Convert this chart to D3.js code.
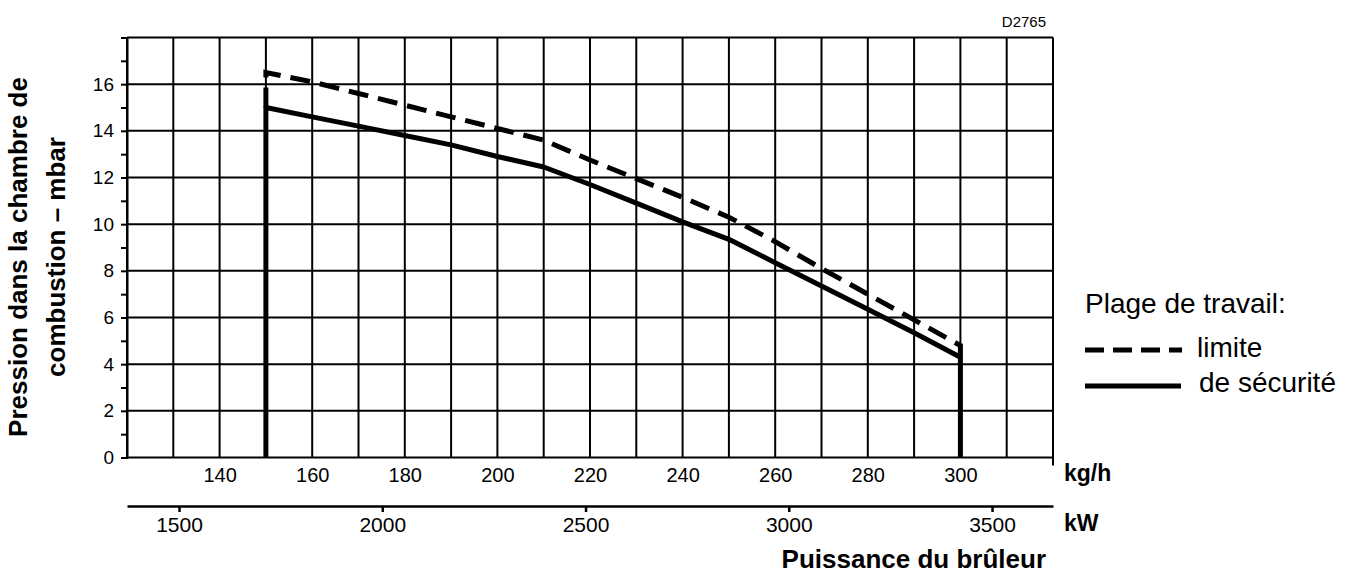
<!DOCTYPE html>
<html>
<head>
<meta charset="utf-8">
<script src="https://cdn.jsdelivr.net/npm/d3@7"></script>
<style>
  html, body { margin: 0; padding: 0; background: #fff; }
  svg { display: block; font-family: "Liberation Sans", Arial, Helvetica, sans-serif; }
</style>
</head>
<body>
<svg id="chart" width="1359" height="576"></svg>
<script>
// ---- Data ----
const kgTicks = [140, 160, 180, 200, 220, 240, 260, 280, 300];
const kwTicks = [1500, 2000, 2500, 3000, 3500];
const mbarTicks = [0, 2, 4, 6, 8, 10, 12, 14, 16];

// "limite" (dashed)
const limiteKg   = [150, 150, 160, 170, 180, 190, 200, 210, 220, 230, 240, 250, 260, 270, 280, 290, 300, 300];
const limiteMbar = [15.0, 16.5, 16.1, 15.6, 15.1, 14.6, 14.1, 13.6, 12.75, 11.95, 11.15, 10.3, 9.25, 8.1, 7.0, 5.9, 4.8, 4.3];

// "de sécurité" (solid)
const securiteKg   = [150, 150, 160, 170, 180, 190, 200, 210, 220, 230, 240, 250, 260, 270, 280, 290, 300, 300];
const securiteMbar = [0, 15.0, 14.6, 14.2, 13.8, 13.4, 12.9, 12.45, 11.7, 10.9, 10.1, 9.35, 8.35, 7.35, 6.35, 5.35, 4.3, 0];

const yTitle = ["Pression dans la chambre de", "combustion \u2013 mbar"];

// ---- Scales ----
const svg = d3.select("#chart");
const x = d3.scaleLinear().domain([120, 320]).range([127, 1053]);
const y = d3.scaleLinear().domain([0, 18]).range([457.5, 37.5]);
const kw = d3.scaleLinear().domain([1372, 3650]).range([127, 1053]);

const grid = svg.append("g").attr("stroke", "#000").attr("stroke-width", 2);

// vertical grid lines every 10 kg/h
grid.selectAll("line.v").data(d3.range(120, 321, 10)).join("line")
  .attr("x1", d => x(d)).attr("x2", d => x(d))
  .attr("y1", y(18)).attr("y2", d => d === 320 ? y(0) + 8 : y(0));

// horizontal grid lines every 2 mbar
grid.selectAll("line.h").data(d3.range(0, 19, 2)).join("line")
  .attr("x1", x(120)).attr("x2", x(320))
  .attr("y1", d => y(d)).attr("y2", d => y(d));

// left axis with ticks every 1 mbar
const yAxis = svg.append("g").attr("transform", `translate(${x(120)},0)`)
  .call(d3.axisLeft(y).tickValues(d3.range(0, 18, 1)).tickSize(6).tickFormat(d => mbarTicks.includes(d) ? d : ""));
yAxis.select(".domain").attr("stroke-width", 2);
yAxis.selectAll(".tick line").attr("stroke-width", 2);
yAxis.selectAll(".tick text").attr("font-size", 19).attr("x", -13).attr("fill", "#000");

// kg/h labels
const xAxis = svg.append("g").attr("transform", `translate(0,${y(0)})`)
  .call(d3.axisBottom(x).tickValues(kgTicks).tickSize(0).tickFormat(d3.format("d")));
xAxis.select(".domain").remove();
xAxis.selectAll(".tick text").attr("font-size", 20).attr("y", 10).attr("fill", "#000");

// kW axis
const kwAxis = svg.append("g").attr("transform", "translate(0,506)")
  .call(d3.axisBottom(kw).tickValues(kwTicks).tickSize(6).tickSizeOuter(0).tickFormat(d3.format("d")));
kwAxis.select(".domain").attr("stroke-width", 2.5);
kwAxis.selectAll(".tick line").attr("stroke-width", 2.5);
kwAxis.selectAll(".tick text").attr("font-size", 21).attr("y", 11).attr("fill", "#000");

// ---- Curves ----
const line = d3.line().x(d => x(d[0])).y(d => y(d[1]));
const secData = securiteKg.map((k, i) => [k, securiteMbar[i]]);
const limData = limiteKg.map((k, i) => [k, limiteMbar[i]]);

svg.append("path").datum(secData).attr("d", line)
  .attr("fill", "none").attr("stroke", "#000").attr("stroke-width", 5)
  .attr("stroke-linejoin", "round");
svg.append("path").datum(limData).attr("d", line)
  .attr("fill", "none").attr("stroke", "#000").attr("stroke-width", 5)
  .attr("stroke-dasharray", "20,10");

// ---- Texts ----
svg.append("text").attr("x", 1046).attr("y", 27).attr("text-anchor", "end")
  .attr("font-size", 15).text("D2765");

svg.append("text").attr("x", 1064).attr("y", 481).attr("font-size", 23).attr("font-weight", "bold").text("kg/h");
svg.append("text").attr("x", 1064).attr("y", 531).attr("font-size", 23).attr("font-weight", "bold").text("kW");
svg.append("text").attr("x", 1046).attr("y", 568).attr("text-anchor", "end")
  .attr("font-size", 26).attr("font-weight", "bold").text("Puissance du br\u00fbleur");

const yt = svg.append("g").attr("transform", "translate(0,257) rotate(-90)");
yt.selectAll("text").data(yTitle).join("text")
  .attr("x", 0).attr("y", (d, i) => i === 0 ? 27 : 65)
  .attr("text-anchor", "middle").attr("font-size", 26).attr("font-weight", "bold")
  .text(d => d);

// ---- Legend ----
const lg = svg.append("g");
lg.append("text").attr("x", 1085).attr("y", 313).attr("font-size", 28).text("Plage de travail:");
lg.append("line").attr("x1", 1085).attr("x2", 1182).attr("y1", 350).attr("y2", 350)
  .attr("stroke", "#000").attr("stroke-width", 5).attr("stroke-dasharray", "19,9");
lg.append("text").attr("x", 1197).attr("y", 357).attr("font-size", 28).text("limite");
lg.append("line").attr("x1", 1085).attr("x2", 1181).attr("y1", 386).attr("y2", 386)
  .attr("stroke", "#000").attr("stroke-width", 5);
lg.append("text").attr("x", 1199).attr("y", 392).attr("font-size", 28).text("de s\u00e9curit\u00e9");
</script>
</body>
</html>
